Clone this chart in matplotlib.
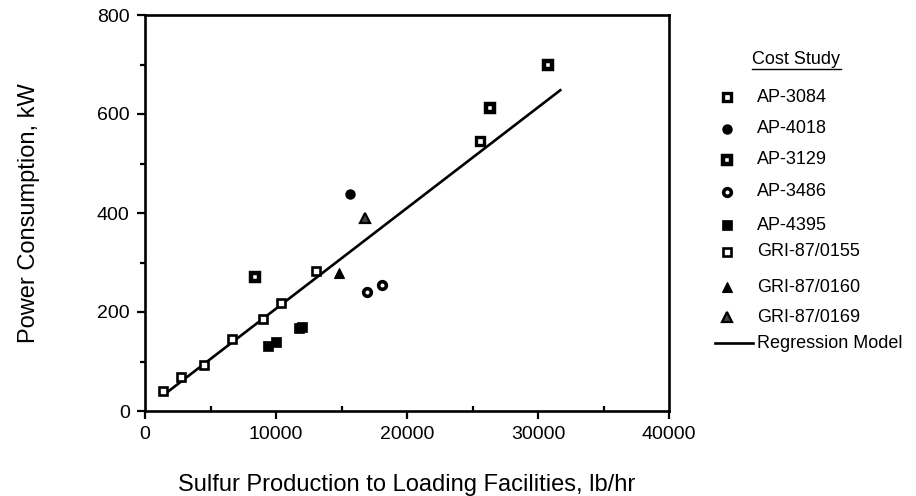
import matplotlib.pyplot as plt
from matplotlib.lines import Line2D
from matplotlib.ticker import MultipleLocator

plt.rcParams['font.family'] = ['Liberation Sans', 'DejaVu Sans']

# data (lb/hr, kW)
ap3084_x = [25570]
ap3084_y = [546]
ap4018_x = [15670]
ap4018_y = [438]
ap3129_x = [8400, 26310, 30730]
ap3129_y = [271, 613, 698]
ap3486_x = [16970, 18090]
ap3486_y = [240, 255]
ap4395_x = [9370, 9980, 11720, 12020]
ap4395_y = [131, 140, 167, 170]
gri0155_x = [1380, 2730, 4490, 6610, 9035, 10390, 13070]
gri0155_y = [40, 69, 92, 146, 185, 219, 283]
gri0160_x = [14780]
gri0160_y = [278]
gri0169_x = [16820]
gri0169_y = [389]
reg_x = [1700, 31700]
reg_y = [38, 648]

labels = ['AP-3084', 'AP-4018', 'AP-3129', 'AP-3486', 'AP-4395',
          'GRI-87/0155', 'GRI-87/0160', 'GRI-87/0169', 'Regression Model']

W, H = 916, 496
fig = plt.figure(figsize=(W / 100, H / 100), dpi=100)
ax = fig.add_axes([145 / W, 1 - 411 / H, 524 / W, 396 / H])

styles = [
    dict(marker='s', ms=5.5, mfc='white', mec='black', mew=2.4),
    dict(marker='o', ms=6.5, mfc='black', mec='black', mew=1),
    dict(marker='s', ms=6, mfc='white', mec='black', mew=3.2),
    dict(marker='o', ms=5.5, mfc='white', mec='black', mew=2.6),
    dict(marker='s', ms=7, mfc='black', mec='black', mew=0.5),
    dict(marker='s', ms=5.8, mfc='white', mec='black', mew=1.9),
    dict(marker='^', ms=7.5, mfc='black', mec='black', mew=0.8),
    dict(marker='^', ms=7.5, mfc='#444444', mec='black', mew=1.6),
]
series = [(ap3084_x, ap3084_y), (ap4018_x, ap4018_y), (ap3129_x, ap3129_y),
          (ap3486_x, ap3486_y), (ap4395_x, ap4395_y), (gri0155_x, gri0155_y),
          (gri0160_x, gri0160_y), (gri0169_x, gri0169_y)]

for (xs, ys), st in zip(series, styles):
    ax.plot(xs, ys, ls='none', zorder=3, **st)
ax.plot(reg_x, reg_y, '-', color='black', lw=1.9, zorder=2)

ax.set_xlim(0, 40000)
ax.set_ylim(0, 800)
ax.set_xticks([0, 10000, 20000, 30000, 40000])
ax.set_yticks([0, 200, 400, 600, 800])
ax.xaxis.set_minor_locator(MultipleLocator(5000))
ax.yaxis.set_minor_locator(MultipleLocator(100))
ax.tick_params(axis='x', which='major', direction='out', length=6, width=1.6, labelsize=14, pad=5)
ax.tick_params(axis='x', which='minor', direction='in', length=3.5, width=1.6)
ax.tick_params(axis='y', which='major', direction='out', length=6, width=1.6, labelsize=14, pad=5)
ax.tick_params(axis='y', which='minor', direction='out', length=3.5, width=1.6)
for s in ax.spines.values():
    s.set_linewidth(1.9)

ax.set_xlabel('Sulfur Production to Loading Facilities, lb/hr', fontsize=17)
ax.set_ylabel('Power Consumption, kW', fontsize=17)
ax.xaxis.set_label_coords(0.5, -(474 - 411) / 396)
ax.yaxis.set_label_coords(-(145 - 40) / 524, 0.5)

# legend, drawn by hand to follow the original spacing
fig.text(796 / W, 1 - 60 / H, 'Cost Study', fontsize=13, ha='center', va='center')
fig.add_artist(Line2D([752 / W, 841 / W], [1 - 69 / H, 1 - 69 / H], color='black', lw=1))
row_y = [97, 129, 160, 192, 225, 252, 287, 317]
for lab, st, yy in zip(labels[:8], styles, row_y):
    fig.add_artist(Line2D([727 / W], [1 - yy / H], ls='none', **st))
    fig.text(757 / W, 1 - yy / H, lab, fontsize=13, ha='left', va='center')
fig.add_artist(Line2D([715 / W, 753 / W], [1 - 343 / H, 1 - 343 / H], color='black', lw=1.9))
fig.text(757 / W, 1 - 343 / H, labels[8], fontsize=13, ha='left', va='center')

fig.savefig('out.png', dpi=100)
